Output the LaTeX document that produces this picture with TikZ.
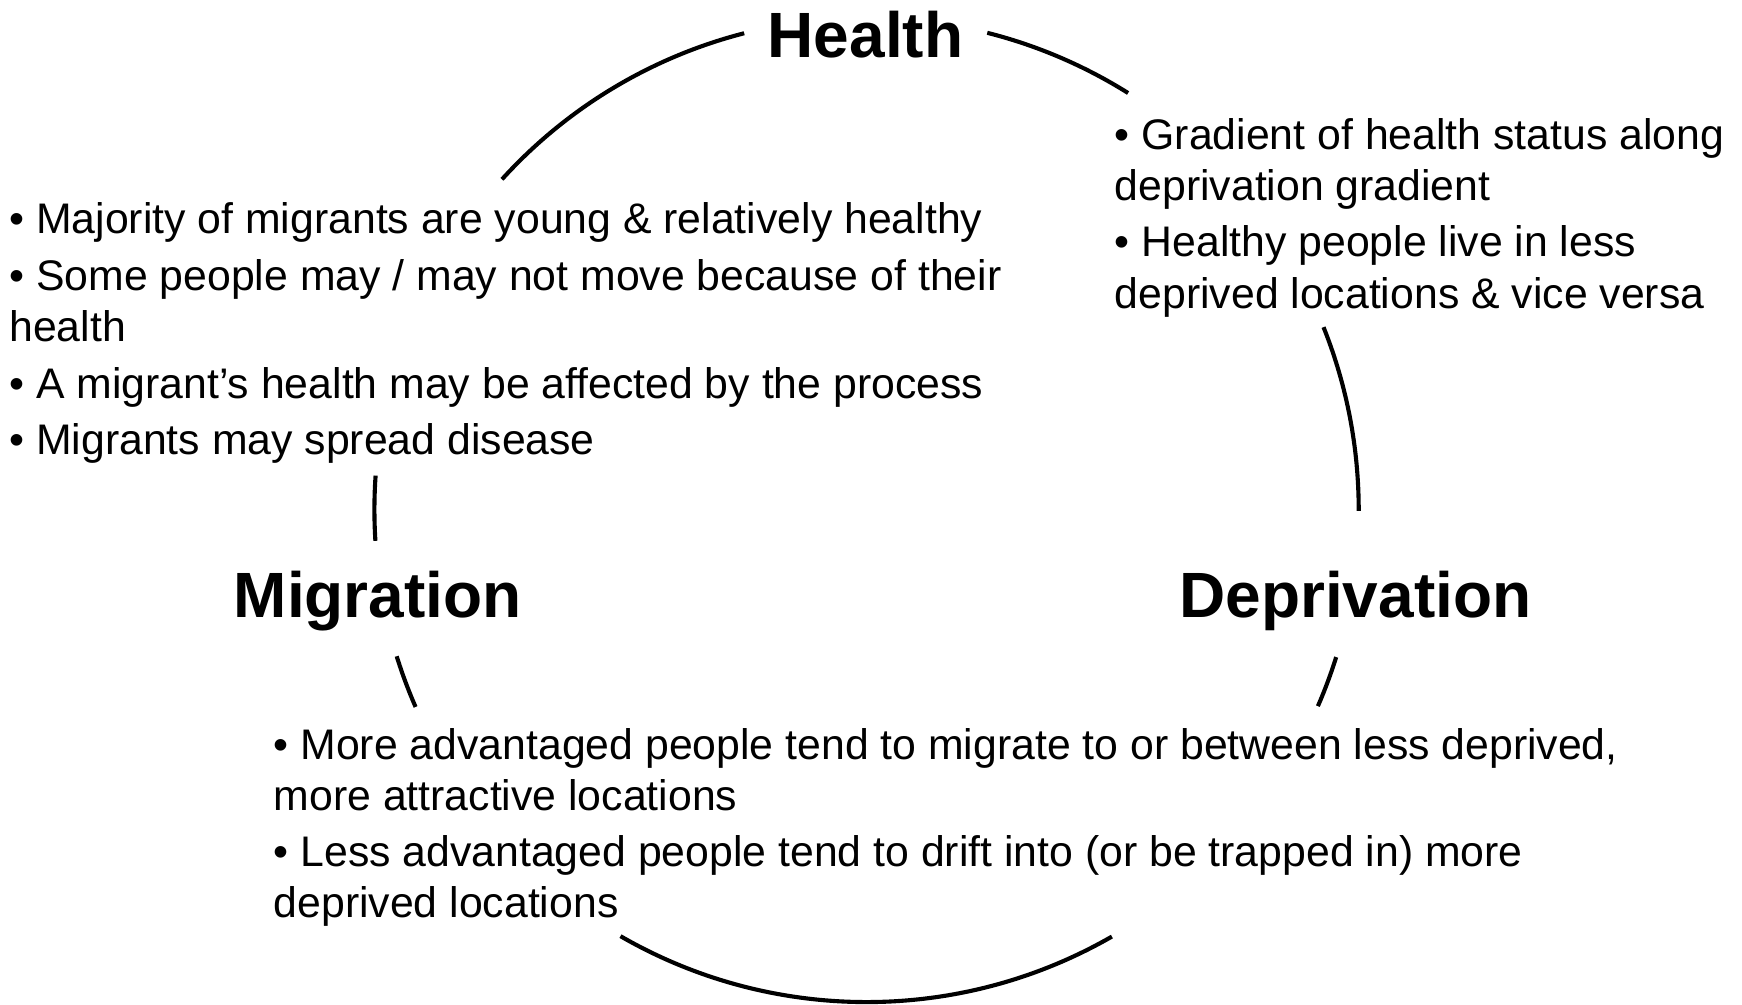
\documentclass[tikz,border=0pt]{standalone}
\usepackage{fontspec}
\setmainfont{Liberation Sans}
\begin{document}
\begin{tikzpicture}[x=0.5pt,y=0.5pt,
  ring/.style={line width=1.85pt, black},
  title/.style={font=\fontsize{28.8}{32}\selectfont\bfseries, inner sep=0pt, anchor=base},
  body/.style={font=\fontsize{19.25}{23}\selectfont, align=left, inner sep=0pt, anchor=north west}]
\useasboundingbox (0,0) rectangle (1568,904);
\coordinate (c) at (780,445);
\def\R{443}
% circle segments
\draw[ring] ([shift={(104.4:\R)}]c) arc (104.4:137.8:\R);
\draw[ring] ([shift={(57.9:\R)}]c) arc (57.9:75.8:\R);
\draw[ring] ([shift={(-0.1:\R)}]c) arc (-0.1:21.8:\R);
\draw[ring] ([shift={(-23.5:\R)}]c) arc (-23.5:-17.4:\R);
\draw[ring] ([shift={(-120:\R)}]c) arc (-120:-60.1:\R);
\draw[ring] ([shift={(197.3:\R)}]c) arc (197.3:203.6:\R);
\draw[ring] ([shift={(176:\R)}]c) arc (176:183.6:\R);
% titles
\node[title] (health) at (779,852) {Health};
\node[title] (migration) at (340,348) {Migration};
\node[title] (deprivation) at (1220,348) {Deprivation};
% text blocks
\node[body] (lefttext) at (8,722) {• Majority of migrants are young \& relatively healthy\\[2.5pt]• Some people may / may not move because of their\\health\\[2.5pt]• A migrant’s health may be affected by the process\\[2.5pt]• Migrants may spread disease};
\node[body] (righttext) at (1003,798) {• Gradient of health status along\\deprivation gradient\\[2.5pt]• Healthy people live in less\\deprived locations \& vice versa};
\node[body] (bottomtext) at (246,249) {• More advantaged people tend to migrate to or between less deprived,\\more attractive locations\\[2.5pt]• Less advantaged people tend to drift into (or be trapped in) more\\deprived locations};
\end{tikzpicture}
\end{document}
